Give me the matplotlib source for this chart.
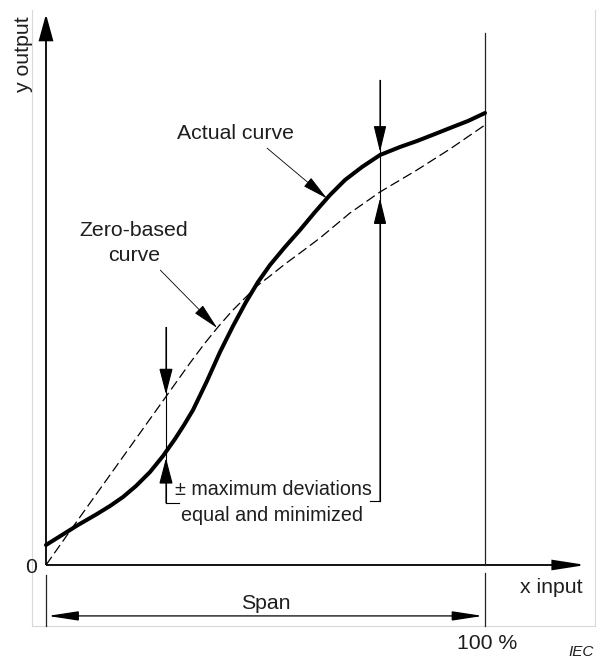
import numpy as np
import matplotlib
matplotlib.use('Agg')
import matplotlib.pyplot as plt
from matplotlib.patches import FancyArrowPatch

plt.rcParams['font.family'] = ['Liberation Sans', 'DejaVu Sans']

# ---- data (x input in % of span, y output in same units) ----
actual_x = [0.00, 3.64, 7.29, 11.62, 14.58, 17.54, 20.50, 23.69, 26.65, 29.38,
            31.44, 33.49, 36.67, 39.64, 42.60, 45.56, 48.29, 51.03, 54.44, 57.86,
            61.28, 64.69, 68.11, 71.98, 76.08, 80.64, 84.51, 88.61, 92.03, 96.13,
            100.00]
actual_y = [4.56, 6.83, 9.11, 11.62, 13.44, 15.49, 18.00, 21.18, 24.83, 28.70,
            31.89, 35.31, 41.91, 48.52, 54.44, 59.91, 64.46, 68.34, 72.44, 76.31,
            80.41, 84.28, 87.70, 90.66, 93.39, 95.22, 96.58, 98.18, 99.54, 101.14,
            102.96]

zero_x = [0.00, 5.47, 11.16, 16.86, 22.55, 28.25, 32.80, 36.22, 39.18, 42.37,
          45.33, 48.06, 51.03, 54.44, 57.86, 62.41, 69.25, 76.08, 84.51, 92.03,
          100.00]
zero_y = [0.00, 7.74, 15.72, 23.69, 31.66, 39.64, 46.01, 50.57, 54.21, 57.86,
          60.82, 63.55, 65.83, 68.56, 71.07, 74.49, 80.18, 84.97, 89.98, 94.76,
          100.23]

dev_x = [27.33, 76.08]        # positions of the maximum deviations
span_end = 100.0

TXT = '#1e1e1e'
FS = 15.3

fig = plt.figure(figsize=(5.98, 6.58), dpi=100)
ax = fig.add_axes([0, 0, 1, 1])
ax.set_xlim(-10.478, 125.74)
ax.set_ylim(-21.185, 128.70)
ax.axis('off')


def arrow(p0, p1, hl, hw, lw, color='black', both=False):
    style = ('<|-|>' if both else '-|>') + f',head_length={hl},head_width={hw}'
    a = FancyArrowPatch(p0, p1, arrowstyle=style, mutation_scale=1,
                        shrinkA=0, shrinkB=0, lw=lw, color=color,
                        joinstyle='miter', capstyle='butt')
    ax.add_patch(a)


# light frame
frame_c = '#d9d9d9'
ax.plot([-3.19, -3.19], [-13.9, 126.4], color=frame_c, lw=0.8)
ax.plot([125.06, 125.06], [-13.9, 126.4], color=frame_c, lw=0.8)
ax.plot([-3.19, 125.06], [-13.9, -13.9], color=frame_c, lw=0.8)

# axes with arrows
arrow((0, 0), (0, 125.5), 16.5, 4.5, 1.3)
arrow((0, 0), (123.0, 0), 20.0, 3.1, 1.3)

# 100 % line and span
ax.plot([span_end, span_end], [0, 121.2], color='#222222', lw=0.9)
ax.plot([span_end, span_end], [-1.8, -13.9], color='#222222', lw=0.9)
ax.plot([0, 0], [-2.3, -13.9], color='#222222', lw=0.9)
arrow((0.4, -11.6), (span_end - 0.5, -11.6), 19.0, 2.9, 0.9, both=True)

# curves
ax.plot(zero_x, zero_y, color='black', lw=0.9, linestyle=(0, (8, 3.5)))
ax.plot(actual_x, actual_y, color='black', lw=2.9, solid_capstyle='round',
        solid_joinstyle='round')

# deviation markers
a_l = np.interp(dev_x[0], actual_x, actual_y)
z_l = np.interp(dev_x[0], zero_x, zero_y)
a_r = np.interp(dev_x[1], actual_x, actual_y)
z_r = np.interp(dev_x[1], zero_x, zero_y)

xl, xr = dev_x
ax.plot([xl, xl], [54.2, 14.1], color='black', lw=0.8)
ax.plot([xl, 30.3], [14.1, 14.1], color='black', lw=0.8)
arrow((xl, 54.2), (xl, z_l + 0.5), 16.5, 4.3, 0.8)
arrow((xl, 14.1), (xl, a_l - 1.4), 16.5, 4.3, 0.8)

ax.plot([xr, xr], [110.5, 14.6], color='black', lw=0.8)
ax.plot([xr, 73.8], [14.6, 14.6], color='black', lw=0.8)
arrow((xr, 110.5), (xr, a_r + 0.7), 16.5, 4.0, 0.8)
arrow((xr, 14.6), (xr, z_r - 1.4), 16.5, 4.0, 0.8)

# leader arrows for labels
tip_a = (64.0, np.interp(64.0, actual_x, actual_y))
arrow((50.3, 95.0), tip_a, 16.5, 3.6, 0.6)
tip_z = (39.0, np.interp(39.0, zero_x, zero_y))
arrow((26.0, 67.2), tip_z, 17.0, 3.6, 0.6)

# texts
ax.text(43.1, 98.4, 'Actual curve', ha='center', va='center', fontsize=FS, color=TXT)
ax.text(20.0, 76.3, 'Zero-based', ha='center', va='center', fontsize=FS, color=TXT)
ax.text(20.0, 70.4, 'curve', ha='center', va='center', fontsize=FS, color=TXT)
ax.text(51.8, 17.1, '± maximum deviations', ha='center', va='center', fontsize=14.2, color=TXT)
ax.text(51.5, 11.2, 'equal and minimized', ha='center', va='center', fontsize=14.2, color=TXT)
ax.text(-5.13, 116.3, 'y output', ha='center', va='center', rotation=90, fontsize=FS, color=TXT)
ax.text(-3.3, -0.5, '0', ha='center', va='center', fontsize=FS, color=TXT)
ax.text(122.3, -5.2, 'x input', ha='right', va='center', fontsize=FS, color=TXT)
ax.text(50.0, -8.7, 'Span', ha='center', va='center', fontsize=FS, color=TXT)
ax.text(100.5, -17.8, '100 %', ha='center', va='center', fontsize=FS, color=TXT)
ax.text(118.9, -20.7, 'IEC', ha='left', va='baseline', fontsize=11, style='italic', color=TXT)

fig.savefig('out.png', dpi=100)
